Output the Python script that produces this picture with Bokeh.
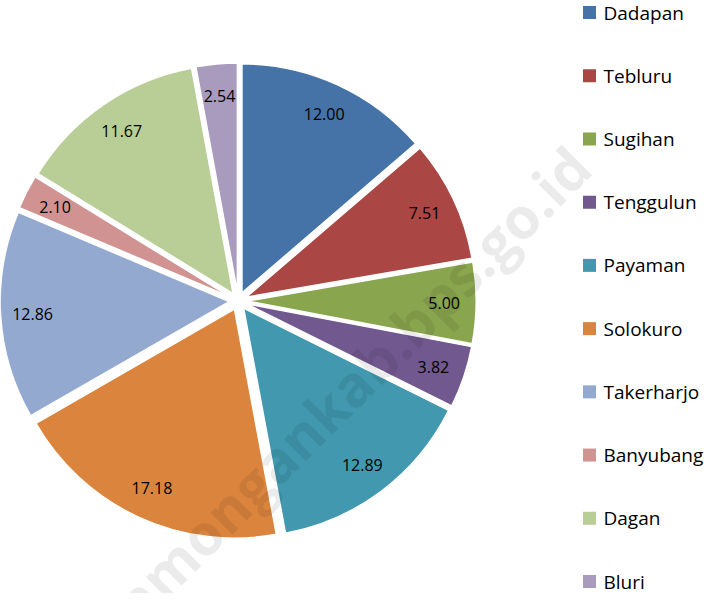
import math
from bokeh.plotting import figure
from bokeh.models import ColumnDataSource, Range1d
from bokeh.core.properties import value
from bokeh.embed import file_html
from bokeh.resources import INLINE

# ---- data ----
categories = ["Dadapan", "Tebluru", "Sugihan", "Tenggulun", "Payaman",
              "Solokuro", "Takerharjo", "Banyubang", "Dagan", "Bluri"]
values = [12.00, 7.51, 5.00, 3.82, 12.89, 17.18, 12.86, 2.10, 11.67, 2.54]
value_labels = ["12.00", "7.51", "5.00", "3.82", "12.89",
                "17.18", "12.86", "2.10", "11.67", "2.54"]
colors = ["#4572A7", "#AA4643", "#89A54E", "#71588F", "#4198AF",
          "#DB843D", "#93A9CF", "#D19392", "#B9CD96", "#A99BBD"]
watermark = "lamongankab.bps.go.id"

# ---- layout ----
W, H = 707, 593
CX, CY = 237.7, 292.5      # pie centre
R = 229.0                  # radius
EXPLODE = 9.0              # offset of each slice
LABEL_R = 206.0
FONT = "Open Sans"

total = sum(values)
starts, ends, xs, ys, lx, ly = [], [], [], [], [], []
cum = 0.0
for v in values:
    a0 = math.pi / 2 - cum / total * 2 * math.pi
    cum += v
    a1 = math.pi / 2 - cum / total * 2 * math.pi
    mid = (a0 + a1) / 2
    starts.append(a0)
    ends.append(a1)
    xs.append(CX + EXPLODE * math.cos(mid))
    ys.append(CY + EXPLODE * math.sin(mid))
    lx.append(CX + LABEL_R * math.cos(mid))
    ly.append(CY + LABEL_R * math.sin(mid))

src = ColumnDataSource(dict(x=xs, y=ys, start=starts, end=ends, color=colors,
                            lx=lx, ly=ly, lab=value_labels, name=categories))

p = figure(width=W, height=H, x_range=Range1d(0, W), y_range=Range1d(0, H),
           output_backend="svg", toolbar_location=None,
           x_axis_type=None, y_axis_type=None, min_border=0)
p.grid.visible = False
p.outline_line_color = None
p.background_fill_color = "white"

p.wedge(x="x", y="y", radius=R, start_angle="start", end_angle="end",
        direction="clock", fill_color="color", line_color="white",
        line_width=1.5, source=src)

# watermark
p.text(x=[112], y=[-30], text=[watermark], angle=math.radians(45),
       text_font=value(FONT), text_font_style="bold", text_font_size="57px",
       text_color="black", text_alpha=0.08, text_align="left",
       text_baseline="middle")

p.text(x="lx", y="ly", text="lab", source=src, text_font=value(FONT),
       text_font_size="16px", text_color="black", text_align="center",
       text_baseline="middle")

# legend
n = len(categories)
leg_y = [581 - i * (569 / (n - 1)) for i in range(n)]
leg = ColumnDataSource(dict(y=leg_y, name=categories, color=colors,
                            mx=[589] * n, tx=[603] * n))
p.scatter(x="mx", y="y", marker="square", size=13, fill_color="color",
          line_color=None, source=leg)
p.text(x="tx", y="y", text="name", source=leg, text_font=value(FONT),
       text_font_size="19px", text_color="black", text_align="left",
       text_baseline="middle")

open("out.html", "w").write(file_html(p, INLINE))
